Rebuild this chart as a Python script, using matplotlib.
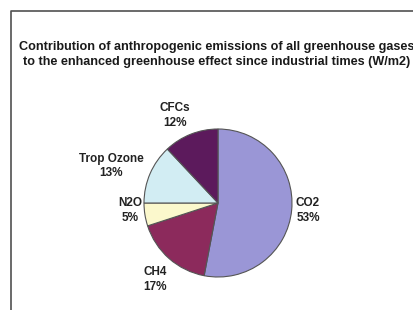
import numpy as np
import matplotlib.pyplot as plt

gases = ["CO2", "CH4", "N2O", "Trop Ozone", "CFCs"]
shares = [53, 17, 5, 13, 12]
colors = ["#9a96d6", "#8c2a5c", "#fbf8cc", "#d2edf3", "#5c1a5c"]
# label placement per wedge:
# distance in pie radii and angular shift (deg) from the wedge middle
label_dist = [1.22, 1.34, 1.19, 1.53, 1.32]
label_shift = [0.6, 1.9, -4.1, 4.3, 4.4]

title = ("Contribution of anthropogenic emissions of all greenhouse gases\n"
         "to the enhanced greenhouse effect since industrial times (W/m2)")

plt.rcParams["font.family"] = ["Liberation Sans", "DejaVu Sans"]

fig = plt.figure(figsize=(4.13, 3.10), dpi=100)
ax = fig.add_axes([0, 0, 1, 1])

cx, cy, r = 218, 107, 74
wedges, _ = ax.pie(shares, colors=colors, startangle=90, counterclock=False,
                   center=(cx, cy), radius=r,
                   wedgeprops=dict(edgecolor="#555555", linewidth=0.8))
ax.set_xlim(0, 413)
ax.set_ylim(0, 310)
ax.set_aspect("equal")
ax.axis("off")

# chart frame (only top and left edges fall inside the crop)
fig.add_artist(plt.Line2D([10.5 / 413, 10.5 / 413, 1.0], [0.0, 299.5 / 310, 299.5 / 310],
                          transform=fig.transFigure, color="#505050", lw=1.2,
                          solid_capstyle="butt"))

for w, name, s, d, sh in zip(wedges, gases, shares, label_dist, label_shift):
    ang = np.deg2rad((w.theta1 + w.theta2) / 2 + sh)
    x = cx + d * r * np.cos(ang)
    y = cy + d * r * np.sin(ang)
    ax.text(x, y, f"{name}\n{s}%", ha="center", va="center",
            fontsize=8.5, fontweight="bold", color="#222222", linespacing=1.3)

ax.text(217, 255.5, title, ha="center", va="center", fontsize=9.1,
        fontweight="bold", color="#1a1a1a", linespacing=1.3)

fig.savefig("out.png", dpi=100)
